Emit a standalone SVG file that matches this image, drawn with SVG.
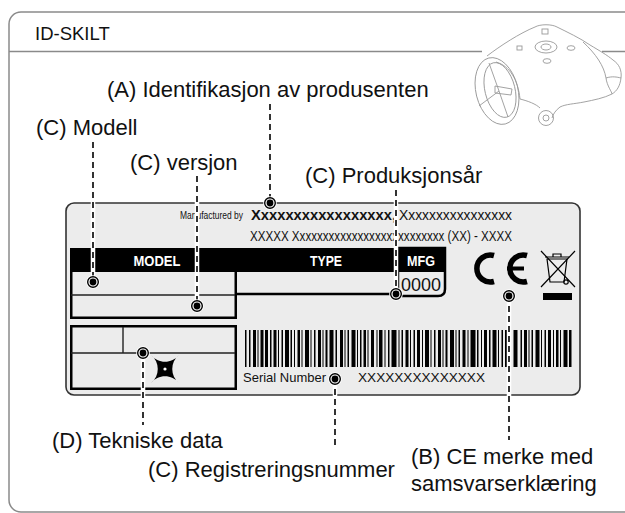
<svg xmlns="http://www.w3.org/2000/svg" width="625" height="513" viewBox="0 0 625 513">
  <style>
    .lbl{font-family:"Liberation Sans",Arial,Helvetica,sans-serif;font-size:22px;fill:#111}
    .plt{font-family:"Liberation Sans",Arial,Helvetica,sans-serif;fill:#111}
    .hdr{font-family:"Liberation Sans",Arial,Helvetica,sans-serif;font-weight:bold;font-size:14px;fill:#fff}
    .halo{stroke:#fff;stroke-width:4.5;fill:none}
    .dash{stroke:#000;stroke-width:1.6;stroke-dasharray:6 4;fill:none}
    .frame{fill:none;stroke:#8a8a8a;stroke-width:1.5}
    .robot{fill:none;stroke:#999;stroke-width:0.9}
    .box{fill:none;stroke:#000;stroke-width:2.5}
  </style>
  <defs>
    <g id="pin">
      <circle r="6.8" fill="#fff"/>
      <circle r="5.3" fill="#fff" stroke="#000" stroke-width="1.4"/>
      <circle r="3.4" fill="#000"/>
    </g>
  </defs>

  <!-- outer panel -->
  <rect x="9" y="12" width="640" height="500" rx="12" fill="#fff" class="frame"/>
  <path d="M9 51.5H482M602 51.5H625" class="frame"/>
  <text x="35" y="40" class="lbl" style="font-size:18.5px">ID-SKILT</text>

  <!-- robot sketch, top right -->
  <g id="robot" class="robot">
    <path d="M487 56 C500 46 520 33 535 27 C540 24 552 24 557 27 C567 32 580 38 590 45 C600 51 607 55 613 60 C619 64 622 70 621 78 C620 86 617 91 612 94 C604 98 594 100 584 102 C574 104 566 104 560 107"/>
    <path d="M560 107 C556 110 553 114 552 118"/>
    <path d="M520 99 C528 101 536 104 540 108"/>
    <path d="M496 62 C510 66 518 80 520 99"/>
    <path d="M583 42 C596 54 604 66 606 78 C607 86 612 92 612 94"/>
    <path d="M606 78 C612 76 617 77 621 78"/>
    <ellipse cx="497" cy="91" rx="21" ry="34" transform="rotate(-14 497 91)"/>
    <ellipse cx="500" cy="90" rx="15" ry="28" transform="rotate(-14 500 90)"/>
    <path d="M499 91 L489 63 M499 91 L479 106 M499 91 L508 117 M495 86 L512 89 L511 95 L495 93 Z"/>
    <circle cx="546" cy="118" r="7.5"/>
    <circle cx="546" cy="118" r="3"/>
    <rect x="542" y="29" width="6" height="5"/>
    <rect x="517" y="46" width="5" height="4"/>
    <ellipse cx="546" cy="47" rx="11" ry="6"/>
    <ellipse cx="546" cy="47" rx="5" ry="3"/>
    <ellipse cx="571" cy="48" rx="4" ry="2.3"/>
    <ellipse cx="547" cy="61" rx="4" ry="2.3"/>
  </g>

  <!-- identification plate -->
  <g id="plate">
    <rect x="66" y="203" width="514" height="192" rx="8" fill="#ececec" stroke="#333" stroke-width="1.6"/>
    <text x="180" y="219" class="plt" font-size="10.5" textLength="63" lengthAdjust="spacingAndGlyphs">Manufactured by</text>
    <text x="251" y="220" class="plt" font-size="15.5" font-weight="bold" textLength="145" lengthAdjust="spacingAndGlyphs">Xxxxxxxxxxxxxxxxx,</text>
    <text x="399" y="220" class="plt" font-size="15.5" textLength="113" lengthAdjust="spacingAndGlyphs">Xxxxxxxxxxxxxxxx</text>
    <text x="250" y="241" class="plt" font-size="15.5" textLength="262" lengthAdjust="spacingAndGlyphs">XXXXX Xxxxxxxxxxxxxxxxxxxxxxxxxx (XX) - XXXX</text>
  </g>

  <g id="model-type-table">
    <rect x="70" y="248" width="325" height="24" fill="#000"/>
    <rect x="71.25" y="249.25" width="164.5" height="68.5" class="box"/>
    <path d="M71 295H235" stroke="#222" stroke-width="1.4"/>
    <path d="M236 294H397" stroke="#000" stroke-width="2.5"/>
    <text x="157" y="266" class="hdr" text-anchor="middle" textLength="47" lengthAdjust="spacingAndGlyphs">MODEL</text>
    <text x="326" y="266" class="hdr" text-anchor="middle" textLength="32" lengthAdjust="spacingAndGlyphs">TYPE</text>
  </g>

  <g id="mfg-box">
    <path d="M398 248H445V289Q445 296 438 296H398Z" fill="#ececec" stroke="#000" stroke-width="2.5"/>
    <rect x="398" y="248" width="47" height="24" fill="#000"/>
    <text x="421" y="266" class="hdr" text-anchor="middle" textLength="28" lengthAdjust="spacingAndGlyphs">MFG</text>
    <text x="421" y="291" class="plt" font-size="18" text-anchor="middle" textLength="40" lengthAdjust="spacingAndGlyphs">0000</text>
  </g>

  <g id="tech-box">
    <rect x="71.25" y="326.25" width="164.5" height="62.5" class="box"/>
    <path d="M71 353H235M123 327V353" stroke="#222" stroke-width="1.4"/>
    <path d="M151 355C158 364 172 364 179 355C170 362 170 376 179 383C172 374 158 374 151 383C160 376 160 362 151 355Z" fill="#000"/>
    <circle cx="165" cy="369" r="1.6" fill="#fff"/>
  </g>

  <g id="ce-mark" fill="none" stroke="#000">
    <path d="M494 255.5A13.5 13.5 0 1 0 494 281.5" stroke-width="5.5"/>
    <path d="M527 255.5A13.5 13.5 0 1 0 527 281.5" stroke-width="5.5"/>
    <path d="M507 268.5H524" stroke-width="4"/>
  </g>

  <g id="weee-mark" fill="none" stroke="#000" stroke-width="1.2">
    <path d="M547 259L550 282H564L567 259Z"/>
    <path d="M545 257H569M553 257V254H561V257"/>
    <circle cx="566" cy="282" r="2.2"/>
    <path d="M541 251L575 287M575 251L541 287"/>
    <rect x="543" y="293" width="29" height="7" fill="#000" stroke="none"/>
  </g>

  <g id="serial">
    <path fill="#000" d="M245 330h1.5v37h-1.5z m4 0h1.5v37h-1.5z m4 0h3v37h-3z m4.5 0h1v37h-1z m3 0h3v37h-3z m4.5 0h3v37h-3z m5 0h1.5v37h-1.5z m3.5 0h3v37h-3z m4.5 0h1v37h-1z m3.5 0h1.5v37h-1.5z m3.5 0h4v37h-4z m5.5 0h1.5v37h-1.5z m3.5 0h1v37h-1z m3.5 0h2.5v37h-2.5z m4 0h1v37h-1z m3.5 0h4v37h-4z m5.5 0h1v37h-1z m3.5 0h1.5v37h-1.5z m4 0h3v37h-3z m4.5 0h1v37h-1z m3 0h2v37h-2z m4 0h4v37h-4z m6 0h1.5v37h-1.5z m4.5 0h3v37h-3z m4.5 0h1v37h-1z m3 0h1.5v37h-1.5z m4 0h4v37h-4z m5.5 0h1v37h-1z m3 0h1.5v37h-1.5z m3.5 0h2.5v37h-2.5z m4 0h1v37h-1z m3.5 0h3v37h-3z m5.5 0h1v37h-1z m2.5 0h3.5v37h-3.5z m5.5 0h1v37h-1z m3.5 0h1.5v37h-1.5z m3.5 0h5v37h-5z m7 0h1v37h-1z m3 0h1.5v37h-1.5z m4 0h3v37h-3z m4.5 0h1v37h-1z m3.5 0h1.5v37h-1.5z m3.5 0h3v37h-3z m5 0h1v37h-1z m3 0h4v37h-4z m5.5 0h1v37h-1z m3.5 0h1.5v37h-1.5z m4 0h3v37h-3z m4.5 0h1v37h-1z m3 0h2v37h-2z m4.5 0h4v37h-4z m5.5 0h1v37h-1z m3 0h1.5v37h-1.5z m4 0h3v37h-3z m5 0h1v37h-1z m3 0h5v37h-5z m6.5 0h1.5v37h-1.5z m4 0h1v37h-1z m3 0h3v37h-3z m5 0h1.5v37h-1.5z m3.5 0h4v37h-4z m5.5 0h1v37h-1z m3.5 0h1.5v37h-1.5z m3.5 0h3v37h-3z m5 0h1v37h-1z m3.5 0h4v37h-4z m7 0h1.5v37h-1.5z m3.5 0h3v37h-3z m4.5 0h1v37h-1z m3 0h1.5v37h-1.5z m4 0h4v37h-4z m5.5 0h1v37h-1z m3.5 0h1.5v37h-1.5z m3.5 0h3v37h-3z m5 0h1v37h-1z m3 0h2.5v37h-2.5z m4 0h1v37h-1z m3.5 0h4v37h-4z m5.5 0h2.5v37h-2.5z"/>
    <text x="243" y="382" class="plt" font-size="13" textLength="83" lengthAdjust="spacingAndGlyphs">Serial Number</text>
    <text x="358" y="382" class="plt" font-size="13" textLength="127" lengthAdjust="spacingAndGlyphs">XXXXXXXXXXXXXX</text>
  </g>

  <!-- callout labels -->
  <g id="label-a"><text x="107" y="97" class="lbl">(A) Identifikasjon av produsenten</text></g>
  <g id="label-modell"><text x="36" y="135" class="lbl">(C) Modell</text></g>
  <g id="label-versjon"><text x="130" y="170" class="lbl">(C) versjon</text></g>
  <g id="label-aar"><text x="305" y="183" class="lbl">(C) Produksjonsår</text></g>
  <g id="label-d"><text x="52" y="448" class="lbl">(D) Tekniske data</text></g>
  <g id="label-reg"><text x="148" y="477" class="lbl">(C) Registreringsnummer</text></g>
  <g id="label-b">
    <text x="411" y="464" class="lbl">(B) CE merke med</text>
    <text x="411" y="491" class="lbl">samsvarserklæring</text>
  </g>

  <!-- dashed leader lines with pin ends -->
  <g id="connectors">
    <path class="halo" d="M270 104V202M93 142V282M197 176V306M396 190V294M509 296V440M143 352V425M335 379V447"/>
    <path class="dash" d="M270 104V202M93 142V282M197 176V306M396 190V294M509 296V440M143 352V425M335 379V447"/>
    <use href="#pin" x="270" y="203"/>
    <use href="#pin" x="93" y="282"/>
    <use href="#pin" x="197" y="306"/>
    <use href="#pin" x="396" y="294"/>
    <use href="#pin" x="509" y="296"/>
    <use href="#pin" x="143" y="353"/>
    <use href="#pin" x="335" y="379"/>
  </g>
</svg>
